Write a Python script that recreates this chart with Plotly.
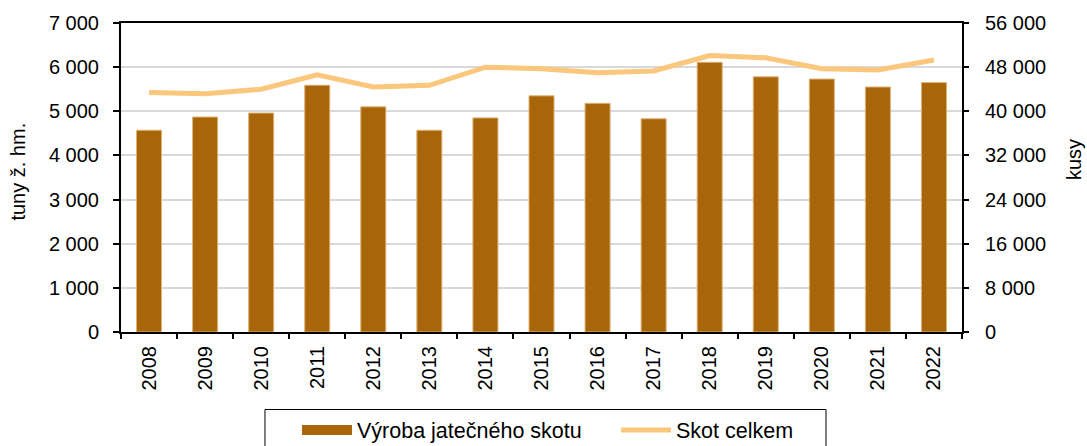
import plotly.graph_objects as go

years = ["2008", "2009", "2010", "2011", "2012", "2013", "2014", "2015",
         "2016", "2017", "2018", "2019", "2020", "2021", "2022"]
vyroba = [4570, 4870, 4960, 5590, 5100, 4570, 4850, 5350,
          5180, 4830, 6110, 5780, 5730, 5550, 5650]
skot = [43400, 43200, 44000, 46600, 44400, 44700, 48000, 47700,
        47000, 47300, 50100, 49700, 47700, 47500, 49300]

y_left_ticks = [0, 1000, 2000, 3000, 4000, 5000, 6000, 7000]
y_right_ticks = [0, 8000, 16000, 24000, 32000, 40000, 48000, 56000]

left_title = "tuny ž. hm."
right_title = "kusy"

FONT = "Liberation Sans, Arial, sans-serif"
FS = 20
BAR_COLOR = "#A8650A"
LINE_COLOR = "#FAC77C"

W, H = 1087, 446

fig = go.Figure()
fig.add_trace(go.Bar(
    x=years, y=vyroba, name="Výroba jatečného skotu",
    marker=dict(color=BAR_COLOR, line=dict(color="#DDB273", width=1)),
    yaxis="y", legendgroup="v", showlegend=False,
))
# legend entry drawn as a wide rectangle like the original
fig.add_trace(go.Scatter(
    x=[None], y=[None], name="Výroba jatečného skotu", mode="lines",
    line=dict(color=BAR_COLOR, width=11), legendgroup="v",
    hoverinfo="skip",
))
fig.add_trace(go.Scatter(
    x=years, y=skot, name="Skot celkem", mode="lines",
    line=dict(color=LINE_COLOR, width=5),
    yaxis="y2",
))

fig.add_shape(
    type="rect", xref="paper", yref="paper",
    x0=0.1712, x1=0.8383, y0=-0.2508, y1=-0.40,
    line=dict(color="#000000", width=1), fillcolor="rgba(0,0,0,0)",
    layer="above",
)

# axis titles placed as rotated text beside the axes
fig.add_annotation(
    text=left_title, xref="paper", yref="paper", x=-0.1225, y=0.519,
    xanchor="center", yanchor="middle", textangle=-90, showarrow=False,
    font=dict(family=FONT, size=FS, color="#000000"),
)
fig.add_annotation(
    text=right_title, xref="paper", yref="paper", x=1.1332, y=0.5566,
    xanchor="center", yanchor="middle", textangle=-90, showarrow=False,
    font=dict(family=FONT, size=FS, color="#000000"),
)

fig.update_layout(
    template="none",
    width=W, height=H, autosize=False,
    margin=dict(l=121, r=125, t=23, b=114, autoexpand=False),
    paper_bgcolor="white", plot_bgcolor="white",
    font=dict(family=FONT, size=FS, color="#000000"),
    separators=", ",
    bargap=0.554,
    showlegend=True,
    legend=dict(
        orientation="h", xref="container", yref="container",
        x=297 / W, xanchor="left", y=1 - 430 / H, yanchor="middle",
        borderwidth=0, bgcolor="rgba(0,0,0,0)",
        font=dict(family=FONT, size=21.5),
        entrywidth=254, entrywidthmode="pixels",
        itemwidth=50,
    ),
    xaxis=dict(
        type="category", tickangle=-90, tickson="boundaries", automargin=False,
        ticks="outside", ticklen=5, tickwidth=1.5, tickcolor="#000000",
        showline=True, linecolor="#000000", linewidth=2, mirror=True,
        showgrid=False, zeroline=False, ticklabelstandoff=4,
        tickfont=dict(family=FONT, size=FS),
    ),
    yaxis=dict(
        range=[0, 7000], tickvals=y_left_ticks, tickformat=",d", automargin=False,
        ticks="outside", ticklen=6, tickwidth=1.5, tickcolor="#000000",
        showline=True, linecolor="#000000", linewidth=2,
        showgrid=True, gridcolor="#D9D9D9", gridwidth=2, zeroline=False,
        ticklabelstandoff=10,
        tickfont=dict(family=FONT, size=FS),
    ),
    yaxis2=dict(
        range=[0, 56000], tickvals=y_right_ticks, tickformat=",d", automargin=False,
        overlaying="y", side="right",
        ticks="outside", ticklen=5, tickwidth=1.5, tickcolor="#000000",
        showline=True, linecolor="#000000", linewidth=2,
        showgrid=False, zeroline=False,
        ticklabelstandoff=12,
        tickfont=dict(family=FONT, size=FS),
    ),
)

# remove the browser's default page margin so the figure fills the window exactly
fig.write_html(
    "out.html",
    config={"displayModeBar": False},
    post_script="document.body.style.margin='0';",
)
